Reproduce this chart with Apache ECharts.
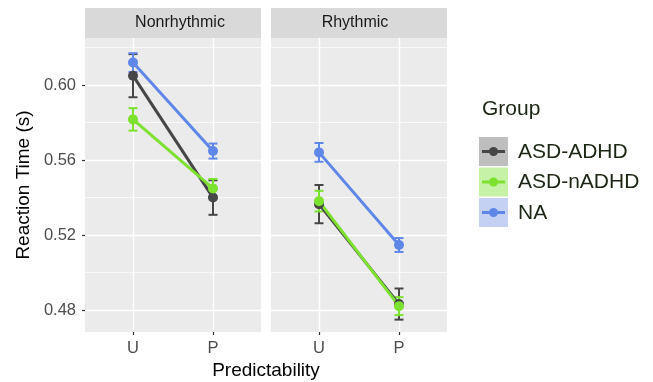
<!DOCTYPE html>
<html>
<head>
<meta charset="utf-8">
<script src="https://cdn.jsdelivr.net/npm/echarts@6/dist/echarts.min.js"></script>
<style>
  html, body { margin: 0; padding: 0; background: #fff; }
  #main { width: 653px; height: 382px; }
</style>
</head>
<body>
<div id="main"></div>
<script>
// facets, x categories, groups
const panels = ['Nonrhythmic', 'Rhythmic'];
const conditions = ['U', 'P'];
const groups = ['ASD-ADHD', 'ASD-nADHD', 'NA'];
const yTicks = [0.48, 0.52, 0.56, 0.60];
const yMinor = [0.50, 0.54, 0.58, 0.62];

// mean reaction time, per panel: [U, P]
const meanAsdAdhd = [[0.605, 0.540], [0.5365, 0.4832]];
const meanAsdNadhd = [[0.5817, 0.5449], [0.5381, 0.4821]];
const meanNa = [[0.612, 0.5648], [0.5641, 0.5147]];
// error bar half width, per panel: [U, P]
const errAsdAdhd = [[0.0115, 0.0092], [0.0102, 0.0083]];
const errAsdNadhd = [[0.006, 0.005], [0.0055, 0.0048]];
const errNa = [[0.005, 0.004], [0.005, 0.0037]];

const means = [meanAsdAdhd, meanAsdNadhd, meanNa];
const errs = [errAsdAdhd, errAsdNadhd, errNa];
const colors = ['#464646', '#7DE12F', '#5F87E8'];
const keyFills = ['#BEBEBE', '#C6F2A8', '#C5D1F3'];

const font = 'Liberation Sans, Arial, Helvetica, sans-serif';
const yMin = 0.4683, yMax = 0.6251;

const chart = echarts.init(document.getElementById('main'));

function errorBarItem (params, api) {
  const x = api.value(0);
  const lo = api.coord([x, api.value(1)]);
  const hi = api.coord([x, api.value(2)]);
  const hw = 4.5;
  const style = { stroke: api.visual('color'), lineWidth: 2 };
  return {
    type: 'group',
    children: [
      { type: 'line', shape: { x1: lo[0], y1: lo[1], x2: hi[0], y2: hi[1] }, style: style },
      { type: 'line', shape: { x1: lo[0] - hw, y1: lo[1], x2: lo[0] + hw, y2: lo[1] }, style: style },
      { type: 'line', shape: { x1: hi[0] - hw, y1: hi[1], x2: hi[0] + hw, y2: hi[1] }, style: style }
    ]
  };
}

const gridLefts = [85, 271];
const stripTextX = [180, 355];
const grids = [], xAxes = [], yAxes = [], series = [], graphics = [];

panels.forEach(function (p, i) {
  grids.push({ left: gridLefts[i], top: 38, width: 176, height: 294, show: true,
    backgroundColor: '#EBEBEB', borderWidth: 0 });
  xAxes.push({
    type: 'value', gridIndex: i, min: 0.4, max: 2.6,
    axisLine: { show: false },
    axisTick: { show: true, length: 3, customValues: [1, 2], lineStyle: { color: '#333', width: 1.2 } },
    axisLabel: { customValues: [1, 2], margin: 8, color: '#4D4D4D', fontSize: 16.5, fontFamily: font,
      formatter: function (v) { return conditions[Math.round(v) - 1]; } },
    splitLine: { show: true, lineStyle: { color: '#fff', width: 1.4 } }
  });
  // major gridlines + ticks
  yAxes.push({
    type: 'value', gridIndex: i, min: yMin, max: yMax,
    name: i === 0 ? 'Reaction Time (s)' : '', nameLocation: 'middle', nameGap: 52,
    nameTextStyle: { color: '#000', fontSize: 19, fontFamily: font },
    axisLine: { show: false },
    axisTick: { show: i === 0, length: 3, customValues: yTicks, lineStyle: { color: '#333', width: 1.2 } },
    axisLabel: { show: i === 0, customValues: yTicks, margin: 9, color: '#4D4D4D', fontSize: 16.5, fontFamily: font,
      formatter: function (v) { return v.toFixed(2); } },
    splitLine: { show: true, lineStyle: { color: '#fff', width: 1.4 } }
  });
  // minor gridlines
  yAxes.push({
    type: 'value', gridIndex: i, min: yMin, max: yMax, position: 'left',
    axisLine: { show: false },
    axisTick: { show: false, customValues: yMinor },
    axisLabel: { show: false, customValues: yMinor },
    splitLine: { show: true, lineStyle: { color: '#fff', width: 0.7 } }
  });

  groups.forEach(function (g, k) {
    const m = means[k][i], e = errs[k][i];
    series.push({
      type: 'custom', name: g, xAxisIndex: i, yAxisIndex: i * 2,
      itemStyle: { color: colors[k] }, renderItem: errorBarItem, z: 2,
      data: conditions.map(function (c, j) { return [j + 1, m[j] - e[j], m[j] + e[j]]; })
    });
    series.push({
      type: 'line', name: g, xAxisIndex: i, yAxisIndex: i * 2, z: 3,
      symbol: 'circle', symbolSize: 10,
      lineStyle: { color: colors[k], width: 3 },
      itemStyle: { color: colors[k] },
      data: conditions.map(function (c, j) { return [j + 1, m[j]]; })
    });
  });

  // facet strip
  graphics.push({ type: 'rect', left: gridLefts[i], top: 8, shape: { width: 176, height: 30 },
    style: { fill: '#D9D9D9' } });
  graphics.push({ type: 'text', x: stripTextX[i], y: 23,
    style: { text: p, fill: '#1A1A1A', fontSize: 16, fontFamily: font, align: 'center', verticalAlign: 'middle' } });
});

// x axis title
graphics.push({ type: 'text', x: 266, y: 371,
  style: { text: 'Predictability', fill: '#000', fontSize: 19, fontFamily: font, align: 'center', verticalAlign: 'middle' } });

// legend
graphics.push({ type: 'text', x: 482, y: 109,
  style: { text: 'Group', fill: '#1B2614', fontSize: 21, fontFamily: font, verticalAlign: 'middle' } });
groups.forEach(function (g, k) {
  const top = 137 + k * 30.5;
  graphics.push({ type: 'rect', shape: { x: 479, y: top, width: 29, height: 29 }, style: { fill: keyFills[k] } });
  graphics.push({ type: 'line', shape: { x1: 482, y1: top + 14.5, x2: 505, y2: top + 14.5 },
    style: { stroke: colors[k], lineWidth: 3 } });
  graphics.push({ type: 'circle', shape: { cx: 493.5, cy: top + 14.5, r: 4.5 }, style: { fill: colors[k] } });
  graphics.push({ type: 'text', x: 518, y: top + 15,
    style: { text: g, fill: '#1B2614', fontSize: 21, fontFamily: font, verticalAlign: 'middle' } });
});

chart.setOption({
  animation: false,
  grid: grids,
  xAxis: xAxes,
  yAxis: yAxes,
  series: series,
  graphic: graphics
});
</script>
</body>
</html>
